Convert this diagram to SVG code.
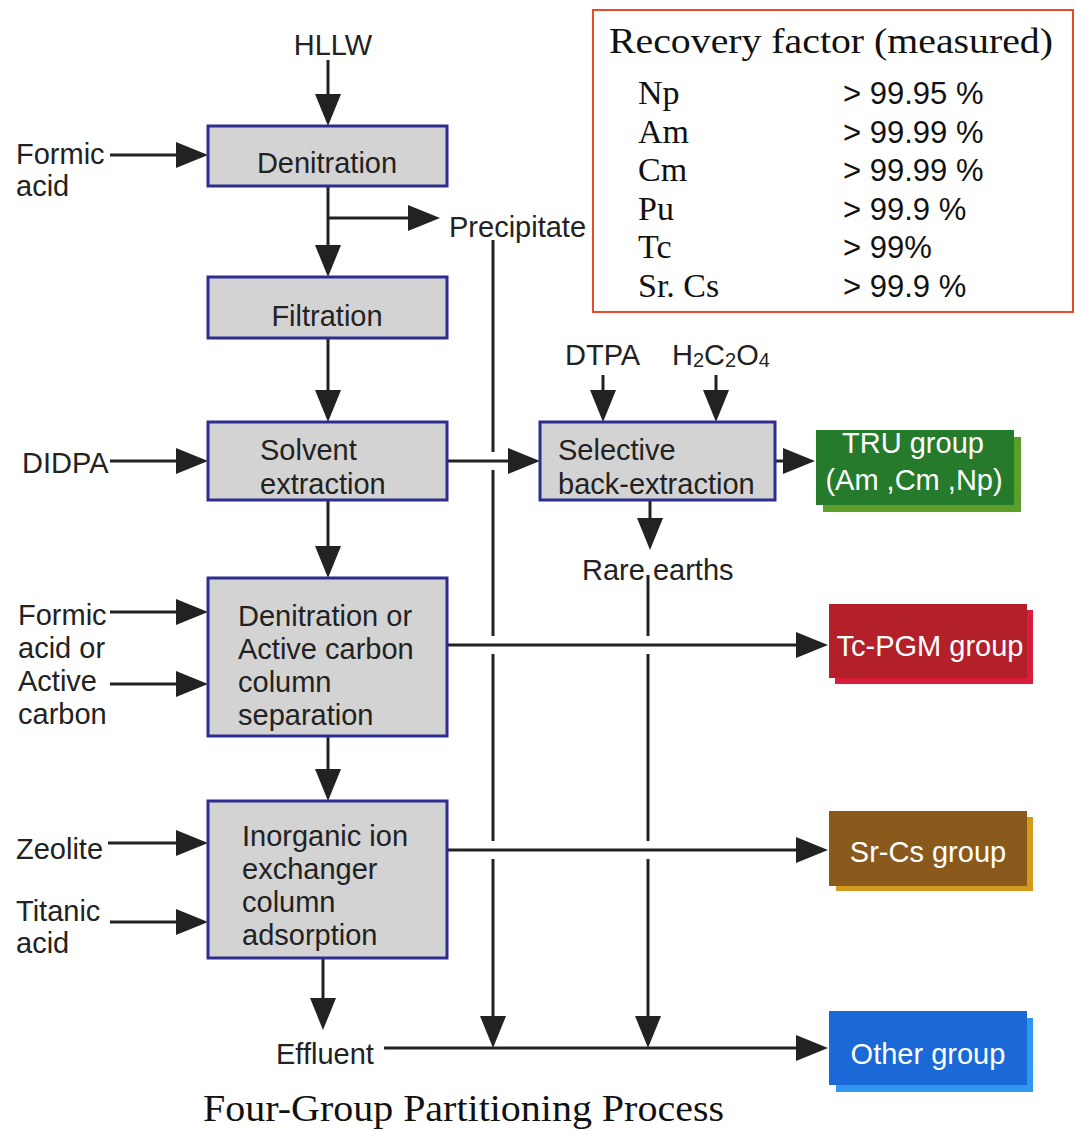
<svg xmlns="http://www.w3.org/2000/svg" width="1075" height="1131" viewBox="0 0 1075 1131">
<defs>
<style>
.box{fill:#d3d3d3;stroke:#2d2d8f;stroke-width:3}
.t{font-family:"Liberation Sans",Arial,sans-serif;font-size:29px;fill:#222}
.w{font-family:"Liberation Sans",Arial,sans-serif;font-size:29px;fill:#fff}
.s{font-family:"Liberation Serif","Times New Roman",serif;fill:#111}
.v{font-family:"Liberation Sans",Arial,sans-serif;font-size:31px;fill:#111}
.c line{stroke:#222;stroke-width:3;fill:none}
.a{marker-end:url(#ah)}
</style>
<marker id="ah" viewBox="0 0 32 26" refX="22" refY="13" markerWidth="32" markerHeight="26" markerUnits="userSpaceOnUse" orient="auto">
<path d="M0,0 L32,13 L0,26 z" fill="#222"/>
</marker>
</defs>
<rect width="1075" height="1131" fill="#fff"/>

<g id="recovery">
<rect x="593" y="10" width="480" height="302" fill="#fff" stroke="#e84a2a" stroke-width="2"/>
<text class="s" x="609" y="53" font-size="36" textLength="444" lengthAdjust="spacingAndGlyphs">Recovery factor (measured)</text>
<text class="s" x="638" y="104" font-size="34">Np</text>
<text class="s" x="638" y="143" font-size="34">Am</text>
<text class="s" x="638" y="181" font-size="34">Cm</text>
<text class="s" x="638" y="220" font-size="34">Pu</text>
<text class="s" x="638" y="258" font-size="34">Tc</text>
<text class="s" x="638" y="297" font-size="34">Sr. Cs</text>
<text class="v" x="843" y="104">&gt; 99.95 %</text>
<text class="v" x="843" y="143">&gt; 99.99 %</text>
<text class="v" x="843" y="181">&gt; 99.99 %</text>
<text class="v" x="843" y="220">&gt; 99.9 %</text>
<text class="v" x="843" y="258">&gt; 99%</text>
<text class="v" x="843" y="297">&gt; 99.9 %</text>
</g>

<g id="connectors" class="c">
<line class="a" x1="328" y1="60" x2="328" y2="116"/>
<line class="a" x1="110" y1="155" x2="198" y2="155"/>
<line class="a" x1="328" y1="186" x2="328" y2="267"/>
<line class="a" x1="328" y1="218" x2="430" y2="218"/>
<line class="a" x1="328" y1="338" x2="328" y2="412"/>
<line class="a" x1="110" y1="461" x2="198" y2="461"/>
<line class="a" x1="447" y1="461" x2="530" y2="461"/>
<line class="a" x1="603" y1="375" x2="603" y2="412"/>
<line class="a" x1="716" y1="375" x2="716" y2="412"/>
<line class="a" x1="775" y1="461" x2="805" y2="461"/>
<line class="a" x1="650" y1="500" x2="650" y2="540"/>
<line class="a" x1="328" y1="500" x2="328" y2="568"/>
<line class="a" x1="110" y1="612" x2="198" y2="612"/>
<line class="a" x1="110" y1="684" x2="198" y2="684"/>
<line class="a" x1="447" y1="645" x2="818" y2="645"/>
<line class="a" x1="328" y1="736" x2="328" y2="791"/>
<line class="a" x1="108" y1="843" x2="198" y2="843"/>
<line class="a" x1="110" y1="922" x2="198" y2="922"/>
<line class="a" x1="447" y1="850" x2="818" y2="850"/>
<line class="a" x1="323" y1="958" x2="323" y2="1020"/>
<line class="a" x1="384" y1="1048" x2="818" y2="1048"/>
<line x1="493" y1="240" x2="493" y2="452"/>
<line x1="493" y1="470" x2="493" y2="636"/>
<line x1="493" y1="654" x2="493" y2="841"/>
<line class="a" x1="493" y1="859" x2="493" y2="1038"/>
<line x1="648" y1="575" x2="648" y2="636"/>
<line x1="648" y1="654" x2="648" y2="841"/>
<line class="a" x1="648" y1="859" x2="648" y2="1038"/>
</g>

<g id="labels">
<text class="t" x="333" y="55" text-anchor="middle">HLLW</text>
<text class="t" x="16" y="164">Formic</text>
<text class="t" x="16" y="196">acid</text>
<text class="t" x="449" y="237">Precipitate</text>
<text class="t" x="22" y="473">DIDPA</text>
<text class="t" x="565" y="365">DTPA</text>
<text class="t" x="672" y="365">H<tspan font-size="20" dy="2">2</tspan><tspan dy="-2">C</tspan><tspan font-size="20" dy="2">2</tspan><tspan dy="-2">O</tspan><tspan font-size="20" dy="2">4</tspan></text>
<text class="t" x="582" y="580">Rare earths</text>
<text class="t" x="18" y="625">Formic</text>
<text class="t" x="18" y="658">acid or</text>
<text class="t" x="18" y="691">Active</text>
<text class="t" x="18" y="724">carbon</text>
<text class="t" x="16" y="859">Zeolite</text>
<text class="t" x="16" y="921">Titanic</text>
<text class="t" x="16" y="953">acid</text>
<text class="t" x="276" y="1064">Effluent</text>
<text class="s" x="203" y="1121" font-size="38" textLength="521" lengthAdjust="spacingAndGlyphs">Four-Group Partitioning Process</text>
</g>

<g id="denitration">
<rect class="box" x="208" y="126" width="239" height="60"/>
<text class="t" x="327" y="173" text-anchor="middle">Denitration</text>
</g>
<g id="filtration">
<rect class="box" x="208" y="277" width="239" height="61"/>
<text class="t" x="327" y="326" text-anchor="middle">Filtration</text>
</g>
<g id="solvent-extraction">
<rect class="box" x="208" y="422" width="239" height="78"/>
<text class="t" x="260" y="460">Solvent</text>
<text class="t" x="260" y="494">extraction</text>
</g>
<g id="selective-back-extraction">
<rect class="box" x="540" y="422" width="235" height="78"/>
<text class="t" x="558" y="460">Selective</text>
<text class="t" x="558" y="494">back-extraction</text>
</g>
<g id="denitration-or-active-carbon">
<rect class="box" x="208" y="578" width="239" height="158"/>
<text class="t" x="238" y="626">Denitration or</text>
<text class="t" x="238" y="659">Active carbon</text>
<text class="t" x="238" y="692">column</text>
<text class="t" x="238" y="725">separation</text>
</g>
<g id="inorganic-ion-exchanger">
<rect class="box" x="208" y="801" width="239" height="157"/>
<text class="t" x="242" y="846">Inorganic ion</text>
<text class="t" x="242" y="879">exchanger</text>
<text class="t" x="242" y="912">column</text>
<text class="t" x="242" y="945">adsorption</text>
</g>

<g id="tru-group">
<rect x="823" y="437" width="198" height="75" fill="#5c9e2c"/>
<rect x="816" y="430" width="198" height="75" fill="#267a2c"/>
<text class="w" x="913" y="453" text-anchor="middle">TRU group</text>
<text class="w" x="914" y="490" text-anchor="middle">(Am ,Cm ,Np)</text>
</g>
<g id="tc-pgm-group">
<rect x="835" y="610" width="198" height="74" fill="#d81e3c"/>
<rect x="829" y="604" width="198" height="74" fill="#b3202a"/>
<text class="w" x="930" y="656" text-anchor="middle">Tc-PGM group</text>
</g>
<g id="sr-cs-group">
<rect x="836" y="817" width="197" height="74" fill="#d39a1e"/>
<rect x="829" y="811" width="198" height="75" fill="#8a5a1c"/>
<text class="w" x="928" y="862" text-anchor="middle">Sr-Cs group</text>
</g>
<g id="other-group">
<rect x="836" y="1018" width="197" height="74" fill="#2f96f2"/>
<rect x="829" y="1011" width="198" height="74" fill="#1a69d6"/>
<text class="w" x="928" y="1064" text-anchor="middle">Other group</text>
</g>
</svg>
